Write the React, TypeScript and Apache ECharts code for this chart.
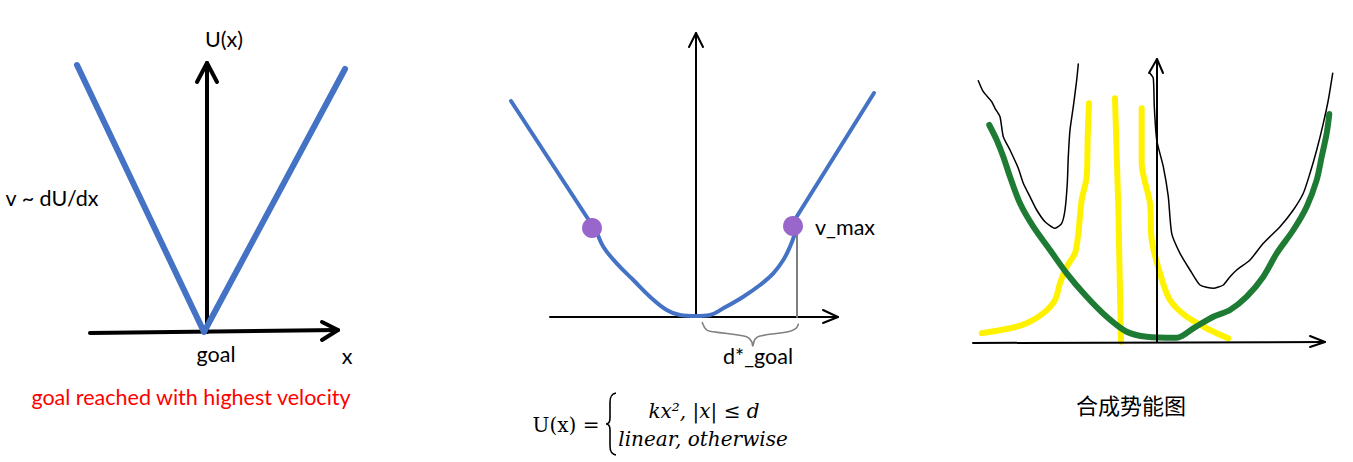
import React, { useEffect, useRef } from "react";
import * as echarts from "echarts";

// ---------- Panel 1 (linear potential) : origin at axis crossing ----------
const P1_V = [[-129, 267], [-2, 0], [139, 263]];
const P1_AXIS_Y = [[1, 0], [1, 269]];
const P1_ARROW_Y = [[-9, 250], [1, 269], [11, 250]];
const P1_AXIS_X = [[-116, -1], [132, 2]];
const P1_ARROW_X = [[116, 10], [132, 2], [116, -8]];

// ---------- Panel 2 (quadratic + linear) ----------
const P2_AXIS_Y = [[0, 0], [0, 284]];
const P2_ARROW_Y = [[-7, 270], [0, 284], [7, 270]];
const P2_AXIS_X = [[-146, 0], [142, 0]];
const P2_ARROW_X = [[127, 7], [142, 0], [127, -6]];
const P2_LEFT_LINEAR = [[-185, 216], [-104, 92]];
const P2_QUADRATIC = [
  [-103, 91], [-101, 88.7], [-92.7, 70.3], [-79.3, 53.7], [-62.7, 37], [-46, 20.3],
  [-29.3, 7], [-16, 2], [0, 1], [14, 2], [27.3, 8.7], [47.3, 20.3], [64, 32],
  [77.3, 43.7], [87.3, 57], [94, 70.3], [99, 83.7], [101, 92],
];
const P2_RIGHT_LINEAR = [[98, 96], [178, 224]];
const P2_DOTS = [[-104, 89], [97, 91]];
const P2_DROP = [[101, 0], [101, 91]];
const P2_BRACE = [
  [6.3, -5.7], [10.7, -13], [17.3, -14.7], [50.7, -19.7], [55.7, -24.7], [56.7, -29],
  [59, -22.3], [64, -19], [92.3, -14.7], [100, -11.3], [102.3, -7.3],
];

// ---------- Panel 3 (combined potential) ----------
const P3_AXIS_Y = [[0, 0], [0, 283]];
const P3_ARROW_Y = [[-8, 269], [0, 283], [6, 269]];
const P3_AXIS_X = [[-184, -1], [168, 0]];
const P3_ARROW_X = [[153, 6], [168, 0], [153, -5]];
const P3_BLACK_LEFT = [
  [-178.7, 261.3], [-173.7, 250.3], [-165.3, 240.3], [-162, 233.7], [-157, 225.3],
  [-153.7, 205.3], [-147, 192], [-138.7, 173.7], [-133.7, 158.7], [-127, 145.3],
  [-120.3, 132], [-112, 120.3], [-102, 113.7], [-95.3, 118.7], [-92, 132],
  [-89.7, 158.7], [-88.7, 185.3], [-87, 212], [-83.7, 235.3], [-80.3, 262], [-78.7, 278],
];
const P3_BLACK_RIGHT = [
  [-7, 268.7], [-3.7, 263.7], [-2.7, 235.3], [-0.3, 202], [6.3, 175.3], [11.3, 145.3],
  [14.7, 108.7], [23, 88.7], [33, 72], [43, 57], [56.3, 53.7], [66.3, 57], [73, 65.3],
  [79.7, 72], [93, 82], [106.3, 98.7], [123, 115.3], [136.3, 132], [146.3, 148.7],
  [153, 168.7], [159.7, 192], [166.3, 218.7], [171.3, 242], [175.7, 268.7],
];
const P3_GREEN = [
  [-167.7, 217], [-160.3, 202], [-153.7, 185.3], [-147, 165.3], [-137, 138.7],
  [-123.7, 115.3], [-107, 92], [-90.3, 68.7], [-70.3, 45.3], [-50.3, 25.3],
  [-30.3, 10.3], [-10.3, 5.3], [19.7, 4.3], [36.3, 13.7], [56.3, 25.3], [73, 32],
  [89.7, 45.3], [106.3, 65.3], [119.7, 88.7], [136.3, 112], [149.7, 135.3],
  [159.7, 162], [164.7, 185.3], [169.7, 208.7], [172.3, 228],
];
const P3_YELLOW_LEFT = [
  [-175.3, 8.7], [-147, 13.7], [-130.3, 18.7], [-113.7, 28.7], [-102, 42], [-97, 58.7],
  [-90.3, 75.3], [-82, 88.7], [-78.7, 108.7], [-75.3, 142], [-70.3, 165.3],
  [-69.3, 205.3], [-68, 238.7],
];
const P3_YELLOW_MID = [[-42, 243.7], [-38.7, 135.3], [-36, 0.3]];
const P3_YELLOW_RIGHT = [
  [-15.3, 233.7], [-15.3, 178.7], [-7, 138.7], [-5.3, 102], [3, 68.7], [13, 42],
  [29.7, 25.3], [53, 12], [71.3, 3.7],
];

// ---------- Texts ----------
const T_UX = "U(x)";
const T_V = "v ~ dU/dx";
const T_GOAL = "goal";
const T_X = "x";
const T_RED = "goal reached with highest velocity";
const T_VMAX = "v_max";
const T_DGOAL = "d*_goal";
const T_CN = "合成势能图";
const T_F_LHS = "U(x) =";
const T_F_TOP = "kx², |x| ≤ d";
const T_F_BOT = "linear, otherwise";

const BLUE = "#4472C4";
const PURPLE = "#9966CC";
const GRAY = "#808080";
const GREEN = "#1E7B34";
const YELLOW = "#FFF200";
const SANS = "Lato, 'Open Sans', sans-serif";
const SERIF = "'DejaVu Serif', 'Liberation Serif', serif";

echarts.graphic.registerShape(
  "bigbrace",
  echarts.graphic.extendPath(
    "M10 0 C5 1 4 4 4 9 L4 25 C4 29 2 31 0 31 C2 31 4 33 4 37 L4 53 C4 58 5 61 10 62",
    {}
  )
);

function line(idx: number, data: number[][], color: string, width: number, z: number, smooth: number | boolean = false) {
  return {
    type: "line",
    xAxisIndex: idx,
    yAxisIndex: idx,
    data,
    symbol: "none",
    smooth,
    clip: false,
    z,
    silent: true,
    lineStyle: { color, width, cap: "round", join: "round" },
  };
}

function txt(text: string, x: number, y: number, fontSize: number, fill = "#000", family = SANS, style = "normal") {
  return {
    type: "text",
    x,
    y,
    z: 100,
    style: {
      text,
      fill,
      font: `${style} ${fontSize}px ${family}`,
      textAlign: "center",
      textVerticalAlign: "middle",
    },
  };
}

export default function App() {
  const ref = useRef<HTMLDivElement>(null);
  useEffect(() => {
    if (!ref.current) return;
    const chart = echarts.init(ref.current, undefined, { renderer: "svg" });
    const grids = [
      { left: 46, top: 42, width: 320, height: 310 },
      { left: 496, top: 17, width: 400, height: 340 },
      { left: 957, top: 42, width: 390, height: 320 },
    ];
    const xr = [[-160, 160], [-200, 200], [-200, 190]];
    const yr = [[-20, 290], [-40, 300], [-20, 300]];
    chart.setOption({
      animation: false,
      backgroundColor: "#ffffff",
      grid: grids,
      xAxis: xr.map((r, i) => ({ type: "value", gridIndex: i, min: r[0], max: r[1], show: false })),
      yAxis: yr.map((r, i) => ({ type: "value", gridIndex: i, min: r[0], max: r[1], show: false })),
      series: [
        line(0, P1_AXIS_Y, "#000", 4, 2),
        line(0, P1_ARROW_Y, "#000", 4, 2),
        line(0, P1_AXIS_X, "#000", 4, 2),
        line(0, P1_ARROW_X, "#000", 4, 2),
        line(0, P1_V, BLUE, 6, 3),

        line(1, P2_AXIS_Y, "#000", 2, 2),
        line(1, P2_ARROW_Y, "#000", 2, 2),
        line(1, P2_AXIS_X, "#000", 2, 2),
        line(1, P2_ARROW_X, "#000", 2, 2),
        line(1, P2_DROP, GRAY, 2, 2),
        line(1, P2_BRACE, GRAY, 1.6, 2, 0.4),
        line(1, P2_LEFT_LINEAR, BLUE, 4, 3),
        line(1, P2_QUADRATIC, BLUE, 4, 3, 0.4),
        line(1, P2_RIGHT_LINEAR, BLUE, 4, 3),
        {
          type: "scatter",
          xAxisIndex: 1,
          yAxisIndex: 1,
          data: P2_DOTS,
          symbolSize: 20,
          clip: false,
          z: 4,
          silent: true,
          itemStyle: { color: PURPLE, opacity: 1 },
        },

        line(2, P3_YELLOW_LEFT, YELLOW, 6, 2, 0.3),
        line(2, P3_YELLOW_MID, YELLOW, 6, 2),
        line(2, P3_YELLOW_RIGHT, YELLOW, 6, 2, 0.3),
        line(2, P3_GREEN, GREEN, 6, 3, 0.3),
        line(2, P3_BLACK_LEFT, "#000", 1.5, 4, 0.2),
        line(2, P3_BLACK_RIGHT, "#000", 1.5, 4, 0.2),
        line(2, P3_AXIS_Y, "#000", 2, 5),
        line(2, P3_ARROW_Y, "#000", 2, 5),
        line(2, P3_AXIS_X, "#000", 2, 5),
        line(2, P3_ARROW_X, "#000", 2, 5),
      ],
      graphic: [
        txt(T_UX, 224, 39, 21.5),
        txt(T_V, 52, 198, 21.5),
        txt(T_GOAL, 216, 354, 21.5),
        txt(T_X, 347, 356, 21.5),
        txt(T_RED, 191, 397, 21.5, "#FF0000"),
        txt(T_VMAX, 845, 227, 21.5),
        txt(T_DGOAL, 758, 356, 21.5),
        txt(T_CN, 1131, 404, 22, "#000", "'Noto Sans CJK SC', sans-serif"),
        txt(T_F_LHS, 566, 425, 20, "#000", SERIF),
        txt(T_F_TOP, 704, 411, 20, "#000", SERIF, "italic"),
        txt(T_F_BOT, 703, 439, 20, "#000", SERIF, "italic"),
        {
          type: "bigbrace",
          x: 606,
          y: 393,
          z: 100,
          style: { stroke: "#000", lineWidth: 1.6, fill: "none" },
        },
      ],
    });
    return () => chart.dispose();
  }, []);
  return (
    <div
      ref={ref}
      style={{ position: "fixed", left: 0, top: 0, width: 1353, height: 462, background: "#fff" }}
    />
  );
}
